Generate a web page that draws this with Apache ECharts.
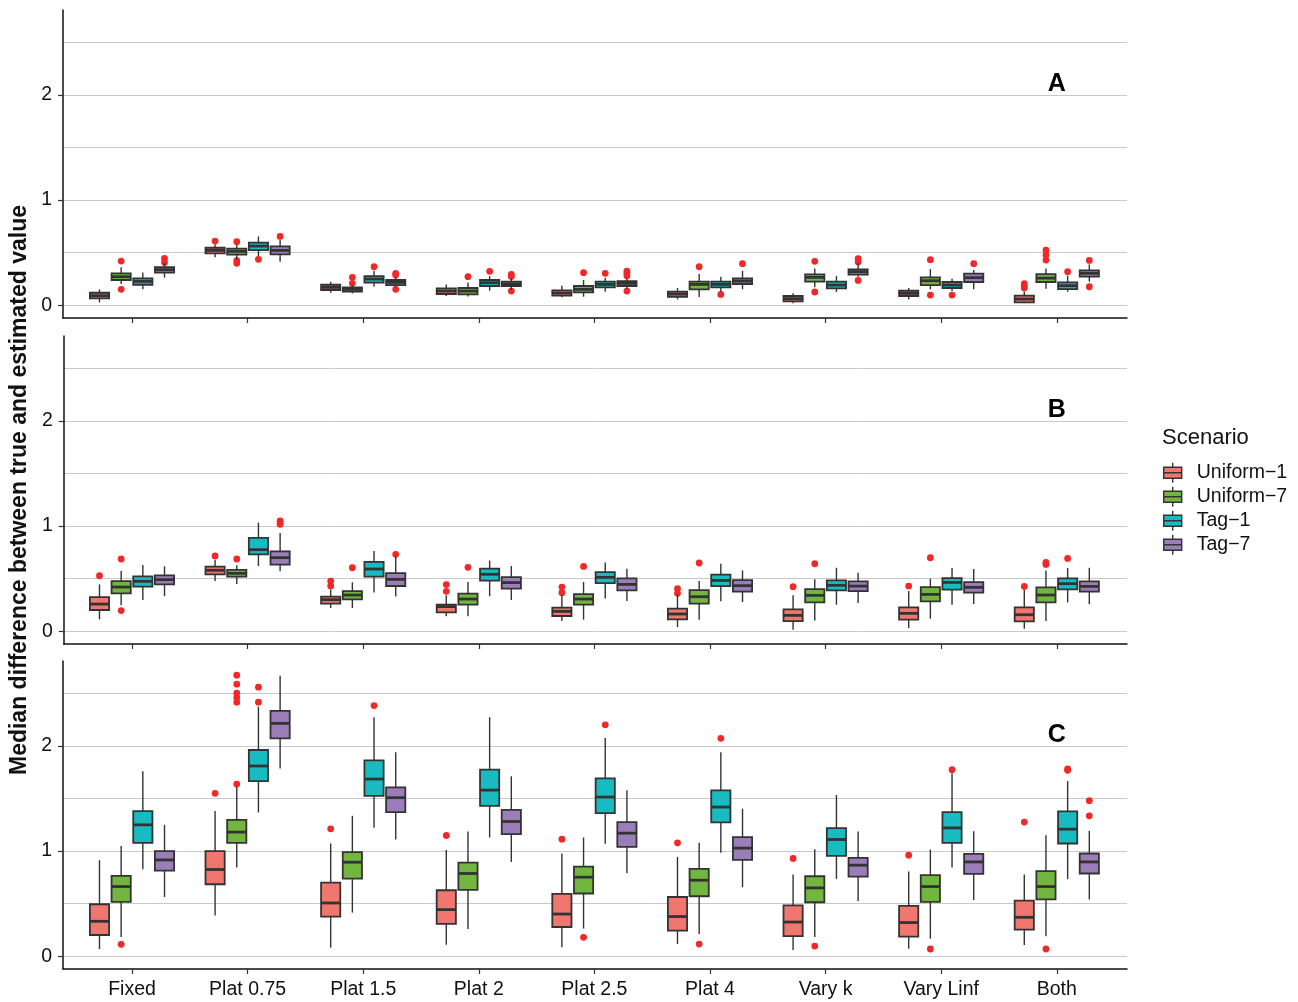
<!DOCTYPE html>
<html>
<head>
<meta charset="utf-8">
<script src="https://cdn.jsdelivr.net/npm/echarts@6/dist/echarts.min.js"></script>
<style>
  html, body { margin: 0; padding: 0; background: #ffffff; }
  #chart { width: 1298px; height: 1002px; }
</style>
</head>
<body>
<div id="chart"></div>
<script>
// ---- data -------------------------------------------------------------
const categories = ['Fixed', 'Plat 0.75', 'Plat 1.5', 'Plat 2', 'Plat 2.5', 'Plat 4', 'Vary k', 'Vary Linf', 'Both'];
const scenarios = ['Uniform\u22121', 'Uniform\u22127', 'Tag\u22121', 'Tag\u22127'];
const panelLetters = ['A', 'B', 'C'];
const yTickValues = [0, 1, 2];
const yGridValues = [0, 0.5, 1, 1.5, 2, 2.5];

// Box statistics per category: [lower whisker, Q1, median, Q3, upper whisker]
// Panel A
const boxA_uniform1 = [
  [0.028, 0.066, 0.092, 0.120, 0.152], [0.456, 0.494, 0.522, 0.547, 0.579], [0.120, 0.146, 0.171, 0.196, 0.225],
  [0.089, 0.108, 0.136, 0.161, 0.199], [0.076, 0.092, 0.117, 0.142, 0.187], [0.057, 0.082, 0.108, 0.130, 0.165],
  [0.019, 0.038, 0.063, 0.089, 0.114], [0.057, 0.089, 0.114, 0.139, 0.165], [0.019, 0.028, 0.060, 0.092, 0.130]
];
const boxA_uniform7 = [
  [0.203, 0.241, 0.272, 0.304, 0.361], [0.437, 0.481, 0.513, 0.538, 0.573], [0.114, 0.130, 0.152, 0.171, 0.193],
  [0.085, 0.104, 0.136, 0.165, 0.218], [0.082, 0.123, 0.152, 0.184, 0.241], [0.079, 0.152, 0.199, 0.225, 0.297],
  [0.171, 0.225, 0.266, 0.294, 0.351], [0.152, 0.193, 0.234, 0.266, 0.345], [0.158, 0.222, 0.259, 0.297, 0.351]
];
const boxA_tag1 = [
  [0.152, 0.196, 0.228, 0.256, 0.313], [0.468, 0.525, 0.563, 0.595, 0.655], [0.177, 0.215, 0.250, 0.278, 0.329],
  [0.139, 0.184, 0.215, 0.241, 0.278], [0.130, 0.171, 0.199, 0.225, 0.263], [0.130, 0.171, 0.199, 0.225, 0.272],
  [0.127, 0.161, 0.193, 0.225, 0.278], [0.136, 0.165, 0.193, 0.222, 0.253], [0.130, 0.155, 0.187, 0.218, 0.282]
];
const boxA_tag7 = [
  [0.263, 0.310, 0.339, 0.364, 0.399], [0.415, 0.484, 0.522, 0.560, 0.620], [0.177, 0.193, 0.218, 0.241, 0.263],
  [0.146, 0.184, 0.203, 0.225, 0.256], [0.160, 0.184, 0.209, 0.231, 0.256], [0.152, 0.203, 0.231, 0.256, 0.329],
  [0.272, 0.291, 0.320, 0.342, 0.399], [0.152, 0.222, 0.263, 0.301, 0.335], [0.225, 0.272, 0.304, 0.332, 0.389]
];
// Panel B
const boxB_uniform1 = [
  [0.114, 0.203, 0.259, 0.326, 0.446], [0.478, 0.542, 0.580, 0.615, 0.681], [0.222, 0.263, 0.301, 0.330, 0.396],
  [0.143, 0.181, 0.235, 0.254, 0.342], [0.098, 0.146, 0.190, 0.225, 0.342], [0.041, 0.114, 0.165, 0.215, 0.348],
  [0.016, 0.098, 0.152, 0.209, 0.342], [0.032, 0.111, 0.171, 0.228, 0.383], [0.025, 0.095, 0.158, 0.228, 0.396]
];
const boxB_uniform7 = [
  [0.247, 0.361, 0.421, 0.478, 0.573], [0.450, 0.520, 0.551, 0.583, 0.627], [0.222, 0.304, 0.345, 0.383, 0.466],
  [0.143, 0.254, 0.307, 0.358, 0.469], [0.111, 0.253, 0.307, 0.354, 0.468], [0.111, 0.263, 0.329, 0.392, 0.478],
  [0.104, 0.275, 0.342, 0.402, 0.494], [0.120, 0.285, 0.351, 0.421, 0.500], [0.098, 0.275, 0.345, 0.418, 0.579]
];
const boxB_tag1 = [
  [0.298, 0.425, 0.475, 0.523, 0.630], [0.621, 0.732, 0.776, 0.887, 1.033], [0.368, 0.520, 0.592, 0.659, 0.763],
  [0.333, 0.482, 0.542, 0.596, 0.672], [0.313, 0.459, 0.513, 0.563, 0.655], [0.285, 0.430, 0.484, 0.538, 0.642],
  [0.253, 0.389, 0.437, 0.484, 0.604], [0.253, 0.396, 0.465, 0.506, 0.601], [0.275, 0.399, 0.453, 0.503, 0.601]
];
const boxB_tag7 = [
  [0.336, 0.447, 0.491, 0.532, 0.618], [0.570, 0.634, 0.700, 0.760, 0.934], [0.330, 0.431, 0.494, 0.554, 0.713],
  [0.298, 0.406, 0.463, 0.516, 0.621], [0.288, 0.389, 0.446, 0.503, 0.595], [0.278, 0.377, 0.434, 0.487, 0.579],
  [0.269, 0.383, 0.430, 0.475, 0.557], [0.259, 0.367, 0.418, 0.468, 0.592], [0.259, 0.377, 0.427, 0.475, 0.604]
];
// Panel C
const boxC_uniform1 = [
  [0.070, 0.203, 0.333, 0.495, 0.913], [0.387, 0.685, 0.825, 0.999, 1.380], [0.083, 0.378, 0.507, 0.701, 1.072],
  [0.111, 0.308, 0.444, 0.628, 1.009], [0.086, 0.279, 0.402, 0.593, 0.977], [0.117, 0.245, 0.378, 0.564, 0.945],
  [0.060, 0.193, 0.326, 0.485, 0.777], [0.073, 0.187, 0.321, 0.479, 0.806], [0.108, 0.254, 0.371, 0.530, 0.777]
];
const boxC_uniform7 = [
  [0.184, 0.517, 0.663, 0.764, 1.047], [0.844, 1.078, 1.180, 1.297, 1.610], [0.416, 0.739, 0.894, 0.990, 1.335],
  [0.260, 0.631, 0.787, 0.891, 1.186], [0.264, 0.597, 0.752, 0.853, 1.129], [0.212, 0.571, 0.723, 0.831, 1.078],
  [0.184, 0.514, 0.650, 0.761, 1.018], [0.168, 0.517, 0.663, 0.771, 1.015], [0.190, 0.542, 0.663, 0.809, 1.151]
];
const boxC_tag1 = [
  [0.828, 1.078, 1.249, 1.380, 1.757], [1.367, 1.665, 1.808, 1.960, 2.372], [1.221, 1.525, 1.684, 1.861, 2.271],
  [1.129, 1.430, 1.579, 1.773, 2.271], [1.069, 1.360, 1.513, 1.691, 2.074], [0.983, 1.272, 1.418, 1.577, 1.938],
  [0.736, 0.954, 1.110, 1.218, 1.532], [0.844, 1.078, 1.220, 1.370, 1.738], [0.733, 1.072, 1.208, 1.377, 1.665]
];
const boxC_tag7 = [
  [0.564, 0.815, 0.916, 0.999, 1.249], [1.785, 2.071, 2.213, 2.331, 2.664], [1.110, 1.370, 1.507, 1.605, 1.938],
  [0.897, 1.161, 1.281, 1.392, 1.710], [0.790, 1.040, 1.170, 1.275, 1.577], [0.657, 0.916, 1.028, 1.132, 1.402],
  [0.526, 0.758, 0.866, 0.935, 1.186], [0.536, 0.783, 0.897, 0.973, 1.189], [0.540, 0.787, 0.897, 0.977, 1.192]
];

// Outlying replicates: [category, value]
const outA_uniform1 = [['Plat 0.75', 0.611], ['Both', 0.206], ['Both', 0.184], ['Both', 0.165]];
const outA_uniform7 = [
  ['Fixed', 0.421], ['Fixed', 0.152], ['Plat 0.75', 0.604], ['Plat 0.75', 0.424], ['Plat 0.75', 0.399],
  ['Plat 1.5', 0.266], ['Plat 1.5', 0.209], ['Plat 2', 0.272], ['Plat 2.5', 0.310], ['Plat 4', 0.367],
  ['Vary k', 0.418], ['Vary k', 0.127], ['Vary Linf', 0.434], ['Vary Linf', 0.098],
  ['Both', 0.525], ['Both', 0.478], ['Both', 0.430]
];
const outA_tag1 = [
  ['Plat 0.75', 0.437], ['Plat 1.5', 0.367], ['Plat 2', 0.323], ['Plat 2.5', 0.304], ['Plat 4', 0.104],
  ['Vary Linf', 0.098], ['Both', 0.320]
];
const outA_tag7 = [
  ['Fixed', 0.446], ['Fixed', 0.408], ['Plat 0.75', 0.655], ['Plat 1.5', 0.304], ['Plat 1.5', 0.288], ['Plat 1.5', 0.152],
  ['Plat 2', 0.294], ['Plat 2', 0.275], ['Plat 2', 0.136], ['Plat 2.5', 0.326], ['Plat 2.5', 0.304], ['Plat 2.5', 0.282],
  ['Plat 2.5', 0.136], ['Plat 4', 0.396], ['Vary k', 0.443], ['Vary k', 0.411], ['Vary k', 0.237],
  ['Vary Linf', 0.396], ['Both', 0.427], ['Both', 0.177]
];
const outB_uniform1 = [
  ['Fixed', 0.528], ['Plat 0.75', 0.716], ['Plat 1.5', 0.478], ['Plat 1.5', 0.431], ['Plat 2', 0.444], ['Plat 2', 0.380],
  ['Plat 2.5', 0.421], ['Plat 2.5', 0.367], ['Plat 4', 0.405], ['Plat 4', 0.361], ['Vary k', 0.424],
  ['Vary Linf', 0.430], ['Both', 0.427]
];
const outB_uniform7 = [
  ['Fixed', 0.687], ['Fixed', 0.197], ['Plat 0.75', 0.687], ['Plat 1.5', 0.605], ['Plat 2', 0.608], ['Plat 2.5', 0.617],
  ['Plat 4', 0.649], ['Vary k', 0.642], ['Vary Linf', 0.699], ['Both', 0.655], ['Both', 0.636]
];
const outB_tag1 = [['Both', 0.693]];
const outB_tag7 = [['Plat 0.75', 1.049], ['Plat 0.75', 1.033], ['Plat 0.75', 1.017], ['Plat 1.5', 0.732]];
const outC_uniform1 = [
  ['Plat 0.75', 1.548], ['Plat 1.5', 1.211], ['Plat 2', 1.148], ['Plat 2.5', 1.113], ['Plat 4', 1.078],
  ['Vary k', 0.930], ['Vary Linf', 0.961], ['Both', 1.275]
];
const outC_uniform7 = [
  ['Fixed', 0.114], ['Plat 0.75', 1.636], ['Plat 0.75', 2.414], ['Plat 0.75', 2.458], ['Plat 0.75', 2.500],
  ['Plat 0.75', 2.585], ['Plat 0.75', 2.670], ['Plat 2.5', 0.181], ['Plat 4', 0.117], ['Vary k', 0.098],
  ['Vary Linf', 0.070], ['Both', 0.070]
];
const outC_tag1 = [
  ['Plat 0.75', 2.556], ['Plat 0.75', 2.414], ['Plat 1.5', 2.382], ['Plat 2.5', 2.199], ['Plat 4', 2.071],
  ['Vary Linf', 1.773], ['Both', 1.767], ['Both', 1.780]
];
const outC_tag7 = [['Both', 1.479], ['Both', 1.335]];

// Panel tag placement (category, value)
const panelTagPosition = ['Both', 2.1];

// ---- appearance -------------------------------------------------------
const FONT = '"Liberation Sans", Arial, Helvetica, sans-serif';
const fills = ['#F07670', '#72B640', '#18BCC0', '#9B7DB9'];
const EDGE = '#333333';
const OUTLIER = '#F02828';
const INK = '#111111';
const Y_MIN = -0.12, Y_MAX = 2.805;
const DODGE = [-0.28125, -0.09375, 0.09375, 0.28125]; // fraction of a category band
const BOX_FRAC = 0.166;

const panelTops = [10, 336, 661];
const PANEL_H = 308;
const FRAME_LEFT = 63, FRAME_W = 1064;
const BAND_LEFT = 74.2, BAND_W = 1040.4;

const boxSets = [
  [boxA_uniform1, boxA_uniform7, boxA_tag1, boxA_tag7],
  [boxB_uniform1, boxB_uniform7, boxB_tag1, boxB_tag7],
  [boxC_uniform1, boxC_uniform7, boxC_tag1, boxC_tag7]
];
const outlierSets = [
  [outA_uniform1, outA_uniform7, outA_tag1, outA_tag7],
  [outB_uniform1, outB_uniform7, outB_tag1, outB_tag7],
  [outC_uniform1, outC_uniform7, outC_tag1, outC_tag7]
];

// ---- renderers --------------------------------------------------------
function boxRenderer(slot, color) {
  return function (params, api) {
    const band = api.size([1, 0])[0];
    const half = band * BOX_FRAC / 2;
    const cat = api.value(0);
    const x = api.coord([cat, 0])[0] + band * DODGE[slot];
    const y = function (k) { return api.coord([cat, api.value(k)])[1]; };
    const yLo = y(1), yQ1 = y(2), yMed = y(3), yQ3 = y(4), yHi = y(5);
    const whisker = { stroke: EDGE, lineWidth: 1.4 };
    return {
      type: 'group',
      children: [
        { type: 'line', shape: { x1: x, y1: yHi, x2: x, y2: yQ3 }, style: whisker },
        { type: 'line', shape: { x1: x, y1: yQ1, x2: x, y2: yLo }, style: whisker },
        { type: 'rect', shape: { x: x - half, y: yQ3, width: 2 * half, height: yQ1 - yQ3 },
          style: { fill: color, stroke: EDGE, lineWidth: 1.8 } },
        { type: 'line', shape: { x1: x - half, y1: yMed, x2: x + half, y2: yMed },
          style: { stroke: EDGE, lineWidth: 2.8 } }
      ]
    };
  };
}

function outlierRenderer(slot) {
  return function (params, api) {
    const band = api.size([1, 0])[0];
    const p = api.coord([api.value(0), api.value(1)]);
    return {
      type: 'circle',
      shape: { cx: p[0] + band * DODGE[slot], cy: p[1], r: 3.4 },
      style: { fill: OUTLIER }
    };
  };
}

function tagRenderer(letter) {
  return function (params, api) {
    const p = api.coord([api.value(0), api.value(1)]);
    return {
      type: 'text',
      x: p[0], y: p[1],
      style: {
        text: letter, fill: '#000', font: 'bold 25px ' + FONT,
        align: 'center', verticalAlign: 'middle'
      }
    };
  };
}

// ---- layout -----------------------------------------------------------
const grid = [], xAxis = [], yAxis = [], series = [];

panelLetters.forEach(function (letter, p) {
  const top = panelTops[p];
  const frameGrid = grid.length;
  grid.push({ left: FRAME_LEFT, top: top, width: FRAME_W, height: PANEL_H });
  const bandGrid = grid.length;
  grid.push({ left: BAND_LEFT, top: top, width: BAND_W, height: PANEL_H });

  // frame: bottom axis line across the full panel
  xAxis.push({
    gridIndex: frameGrid, type: 'value', min: 0, max: 1,
    axisLine: { show: true, onZero: false, lineStyle: { color: INK, width: 1.5 } },
    axisTick: { show: false }, axisLabel: { show: false }, splitLine: { show: false }
  });
  // categories with their ticks
  const bandX = xAxis.length;
  xAxis.push({
    gridIndex: bandGrid, type: 'category', data: categories, boundaryGap: true,
    axisLine: { show: false, onZero: false },
    axisTick: { show: true, alignWithLabel: true, interval: 0, length: 5, lineStyle: { color: EDGE, width: 1.2 } },
    axisLabel: { show: p === 2, interval: 0, margin: 11, fontSize: 19.5, color: INK, fontFamily: FONT },
    splitLine: { show: false }
  });

  // left axis with ticks and labels
  const yMain = {
    gridIndex: frameGrid, type: 'value', min: Y_MIN, max: Y_MAX, position: 'left',
    axisLine: { show: true, onZero: false, lineStyle: { color: INK, width: 1.5 } },
    axisTick: { show: true, customValues: yTickValues, length: 5, lineStyle: { color: EDGE, width: 1.2 } },
    axisLabel: { show: true, customValues: yTickValues, margin: 11, fontSize: 19.5, color: INK, fontFamily: FONT },
    splitLine: { show: false }
  };
  if (p === 1) {
    Object.assign(yMain, {
      name: 'Median difference between true and estimated value',
      nameLocation: 'middle', nameRotate: 90, nameGap: 26,
      nameTextStyle: { fontSize: 23, fontWeight: 'bold', color: INK, fontFamily: FONT }
    });
  }
  yAxis.push(yMain);
  // horizontal grid lines
  yAxis.push({
    gridIndex: frameGrid, type: 'value', min: Y_MIN, max: Y_MAX, position: 'left',
    axisLine: { show: false }, axisTick: { show: false, customValues: yGridValues },
    axisLabel: { show: false },
    splitLine: { show: true, lineStyle: { color: '#c9c9c9', width: 1 } }
  });
  // value scale for the marks
  const bandY = yAxis.length;
  yAxis.push({ gridIndex: bandGrid, type: 'value', min: Y_MIN, max: Y_MAX, show: false });

  scenarios.forEach(function (name, s) {
    series.push({
      name: name + ' outliers', type: 'custom',
      xAxisIndex: bandX, yAxisIndex: bandY,
      renderItem: outlierRenderer(s),
      encode: { x: 0, y: 1 },
      data: outlierSets[p][s], silent: true, z: 2
    });
  });
  scenarios.forEach(function (name, s) {
    series.push({
      name: name, type: 'custom',
      xAxisIndex: bandX, yAxisIndex: bandY,
      itemStyle: { color: fills[s], borderColor: EDGE, borderWidth: 1.3 },
      renderItem: boxRenderer(s, fills[s]),
      encode: { x: 0, y: [1, 2, 3, 4, 5] },
      data: boxSets[p][s].map(function (r, i) { return [i].concat(r); }),
      silent: true, z: 3
    });
  });
  series.push({
    name: 'panel ' + letter, type: 'custom',
    xAxisIndex: bandX, yAxisIndex: bandY,
    renderItem: tagRenderer(letter),
    encode: { x: 0, y: 1 },
    data: [panelTagPosition], silent: true, z: 4
  });
});

const legendIcon = 'path://M0,4.5 L18,4.5 L18,15.5 L0,15.5 Z M0,10 L18,10 M9,0 L9,4.5 M9,15.5 L9,20';

const option = {
  backgroundColor: '#ffffff',
  animation: false,
  textStyle: { fontFamily: FONT },
  title: {
    text: 'Scenario', left: 1157, top: 422,
    textStyle: { fontSize: 22, fontWeight: 'normal', color: INK, fontFamily: FONT }
  },
  legend: {
    orient: 'vertical', left: 1158, top: 457,
    itemWidth: 38, itemHeight: 20, itemGap: 2.6,
    selectedMode: false,
    textStyle: { fontSize: 19.5, color: INK, fontFamily: FONT },
    data: scenarios.map(function (name, s) {
      return {
        name: name, icon: legendIcon,
        itemStyle: { color: fills[s], borderColor: EDGE, borderWidth: 1.4 }
      };
    })
  },
  grid: grid,
  xAxis: xAxis,
  yAxis: yAxis,
  series: series
};

const chart = echarts.init(document.getElementById('chart'), null, { renderer: 'canvas' });
chart.setOption(option);
</script>
</body>
</html>
